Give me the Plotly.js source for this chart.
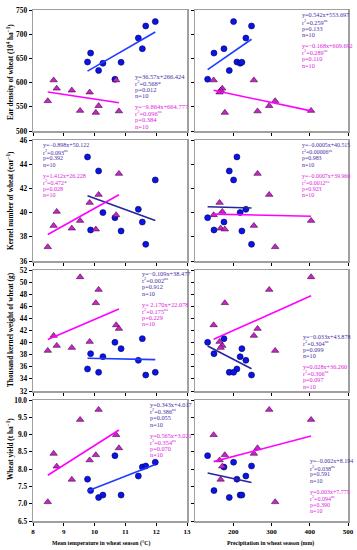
<!DOCTYPE html>
<html><head><meta charset="utf-8">
<script src="https://cdn.plot.ly/plotly-3.0.1.min.js"></script>
<style>html,body{margin:0;padding:0;background:#fff;} #chart{width:357px;height:550px;}</style>
</head><body><div id="chart"></div>
<script>
// ---- data: blue circles (series 1) ----
const tempBlue   = [9.77, 9.87, 10.13, 10.27, 10.66, 10.86, 11.42, 11.55, 11.66, 11.97];
const precBlue   = [209.6, 149.6, 189.6, 218, 133, 222.6, 233, 175.7, 247.8, 200.9];
const earBlue    = [642.6, 661, 625, 640, 607, 642, 692, 670, 717, 726];
const kernelBlue = [44.6, 38.56, 43.44, 40.0, 39.58, 38.48, 40.27, 39.22, 37.38, 42.7];
const tkwBlue    = [35.64, 38.17, 35.09, 37.67, 40.04, 39.0, 37.07, 40.65, 34.64, 35.09];
const yieldBlue  = [7.71, 7.38, 7.18, 7.25, 8.39, 7.25, 7.80, 8.06, 8.09, 8.20];
// ---- data: magenta triangles (series 2) ----
const tempMag    = [8.48, 8.67, 8.77, 9.26, 9.53, 9.84, 10.04, 10.13, 10.70, 10.79];
const precMag    = [309.6, 253.9, 171.3, 167, 403.5, 164.3, 178, 294, 148.7, 263.5];
const earMag     = [562, 605, 588, 584, 542, 580, 538, 552, 605, 541];
const kernelMag  = [37.16, 38.92, 40.08, 38.7, 39.33, 40.82, 38.62, 41.48, 39.8, 43.22];
const tkwMag     = [38.67, 41.15, 39.5, 39.16, 50.84, 40.15, 46.55, 48.75, 42.9, 42.3];
const yieldMag   = [7.05, 8.45, 8.08, 7.70, 9.43, 8.26, 8.41, 9.72, 8.99, 8.61];

// ---- axis ticks / labels ----
const yTitles = ["Ear density of wheat (10<sup>4</sup> ha<sup>\u22121</sup>)",
                 "Kernel number of wheat (ear<sup>\u22121</sup>)",
                 "Thousand kernel weight of wheat (g)",
                 "Wheat yield (t ha<sup>\u22121</sup>)"];
const xTitles = ["Mean temperature in wheat season (\u00B0C)", "Precipitation in wheat season (mm)"];
const yRanges = [[500, 750], [36, 46], [32, 52], [6.5, 10]];
const yDticks = [50, 2, 2, 0.5];
const tempTicks = [8, 9, 10, 11, 12, 13];
const precTicks = [200, 300, 400, 500];

// ---- regression statistics text ----
const statsBlue = [
  ["y=36.57x+266.424", "r<sup>2</sup>=0.568*", "p=0.012", "n=10"],
  ["y=0.542x+553.697", "r<sup>2</sup>=0.259<sup>ns</sup>", "p=0.133", "n=10"],
  ["y=\u22120.898x+50.122", "r<sup>2</sup>=0.093<sup>ns</sup>", "p=0.392", "n=10"],
  ["y=\u22120.0005x+40.515", "r<sup>2</sup>=0.00006<sup>ns</sup>", "p=0.983", "n=10"],
  ["y=\u22120.109x+38.477", "r<sup>2</sup>=0.002<sup>ns</sup>", "p=0.912", "n=10"],
  ["y=\u22120.033x+43.878", "r<sup>2</sup>=0.304<sup>ns</sup>", "p=0.099", "n=10"],
  ["y=0.343x+4.017", "r<sup>2</sup>=0.386<sup>ns</sup>", "p=0.055", "n=10"],
  ["y=\u22120.002x+8.194", "r<sup>2</sup>=0.038<sup>ns</sup>", "p=0.591", "n=10"]
];
const statsMag = [
  ["y=\u22129.864x+664.777", "r<sup>2</sup>=0.096<sup>ns</sup>", "p=0.384", "n=10"],
  ["y=\u22120.168x+609.692", "r<sup>2</sup>=0.289<sup>ns</sup>", "p=0.110", "n=10"],
  ["y=1.412x+26.228", "r<sup>2</sup>=0.472*", "p=0.028", "n=10"],
  ["y=\u22120.0007x+39.960", "r<sup>2</sup>=0.0012<sup>ns</sup>", "p=0.923", "n=10"],
  ["y= 2.170x+22.078", "r<sup>2</sup>=0.175<sup>ns</sup>", "p=0.229", "n=10"],
  ["y=0.028x+36.260", "r<sup>2</sup>=0.306<sup>ns</sup>", "p=0.097", "n=10"],
  ["y=0.565x+3.021", "r<sup>2</sup>=0.354<sup>ns</sup>", "p=0.070", "n=10"],
  ["y=0.003x+7.775", "r<sup>2</sup>=0.094<sup>ns</sup>", "p=0.390", "n=10"]
];

// ---- layout geometry (pixels) ----
const W = 357, H = 550;
const cols = [[33, 187], [195, 348]];
const rows = [[10, 131], [140, 261], [270, 391], [400, 521]];
const statPos = [[133, 76], [300, 15], [40.7, 145], [300, 145], [139.5, 273.5], [301, 336], [148.3, 404.5], [308.3, 461]];
const statSize = [6.5, 6.2, 6.0, 5.9, 6.3, 6.2, 6.3, 6.0];
const blueLineColors = ["#1f3cff", "#1f3cff", "#26269a", "#26269a", "#1f3cff", "#26269a", "#1f3cff", "#26269a"];
const FONT = "Liberation Serif, Times New Roman, serif";

const panels = [];
const yB = [earBlue, kernelBlue, tkwBlue, yieldBlue];
const yM = [earMag, kernelMag, tkwMag, yieldMag];
for (let r = 0; r < 4; r++) {
  panels.push({xb: tempBlue, yb: yB[r], xm: tempMag, ym: yM[r]});
  panels.push({xb: precBlue, yb: yB[r], xm: precMag, ym: yM[r]});
}

function fit(x, y) {
  const n = x.length;
  const mx = x.reduce((a, b) => a + b, 0) / n, my = y.reduce((a, b) => a + b, 0) / n;
  let sxy = 0, sxx = 0;
  for (let i = 0; i < n; i++) { sxy += (x[i] - mx) * (y[i] - my); sxx += (x[i] - mx) ** 2; }
  const b = sxy / sxx, a = my - b * mx;
  const x0 = Math.min(...x), x1 = Math.max(...x);
  return {x: [x0, x1], y: [a + b * x0, a + b * x1]};
}

const px = v => v / W, py = v => 1 - v / H;
const data = [];
const layout = {
  width: W, height: H, margin: {l: 0, r: 0, t: 0, b: 0},
  paper_bgcolor: "#fff", plot_bgcolor: "#fff", showlegend: false,
  font: {family: FONT, color: "#000", size: 8},
  annotations: []
};

panels.forEach((p, k) => {
  const r = Math.floor(k / 2), c = k % 2;
  const xa = "x" + (k + 1), ya = "y" + (k + 1);
  data.push({type: "scatter", mode: "markers", x: p.xb, y: p.yb, xaxis: xa, yaxis: ya,
    marker: {symbol: "circle", size: 6, color: "#0a14e6", line: {color: "#00005a", width: 0.6}}});
  data.push({type: "scatter", mode: "markers", x: p.xm, y: p.ym, xaxis: xa, yaxis: ya,
    marker: {symbol: "triangle-up", size: 6.5, color: "#cc22cc", line: {color: "#3a0a3a", width: 0.6}}});
  const fb = fit(p.xb, p.yb), fm = fit(p.xm, p.ym);
  data.push({type: "scatter", mode: "lines", x: fb.x, y: fb.y, xaxis: xa, yaxis: ya,
    line: {color: blueLineColors[k], width: 1.6}});
  data.push({type: "scatter", mode: "lines", x: fm.x, y: fm.y, xaxis: xa, yaxis: ya,
    line: {color: "#ff00ff", width: 1.6}});

  const axCommon = {showgrid: false, zeroline: false, showline: true, mirror: true,
    linecolor: "#a0a0a0", linewidth: 1.5, ticks: "outside", ticklen: 3, tickwidth: 1, tickcolor: "#000",
    fixedrange: true};
  layout["xaxis" + (k + 1)] = Object.assign({}, axCommon, {
    domain: [px(cols[c][0]), px(cols[c][1])], anchor: ya,
    range: c === 0 ? [8, 13] : [100, 500],
    tickmode: "array", tickvals: c === 0 ? tempTicks : precTicks,
    showticklabels: r === 3,
    tickfont: {family: FONT, size: 7, color: "#000", weight: "bold"}
  });
  layout["yaxis" + (k + 1)] = Object.assign({}, axCommon, {
    domain: [py(rows[r][1]), py(rows[r][0])], anchor: xa,
    range: yRanges[r], dtick: yDticks[r], tick0: yRanges[r][0],
    tickformat: r === 3 ? ".1f" : "", showticklabels: c === 0,
    tickfont: {family: FONT, size: 7.3, color: "#000", weight: "bold"}
  });

  // stats text
  const [sx, sy] = statPos[k];
  statsBlue[k].forEach((t, i) => layout.annotations.push({xref: "paper", yref: "paper",
    x: px(sx), y: py(sy + i * 6.6), xanchor: "left", yanchor: "middle", showarrow: false,
    text: t, font: {family: FONT, size: statSize[k], color: "#4a2ea6"}}));
  statsMag[k].forEach((t, i) => layout.annotations.push({xref: "paper", yref: "paper",
    x: px(sx), y: py(sy + 30.5 + i * 6.6), xanchor: "left", yanchor: "middle", showarrow: false,
    text: t, font: {family: FONT, size: statSize[k], color: "#dd22dd"}}));
});

// y-axis titles
const yTitleCenters = [72, 201, 330, 449];
yTitles.forEach((t, r) => layout.annotations.push({xref: "paper", yref: "paper",
  x: px(10), y: py(yTitleCenters[r]), xanchor: "center", yanchor: "middle", textangle: -90,
  showarrow: false, text: "<b>" + t + "</b>", font: {family: FONT, size: 7.3, color: "#000"}}));
// x-axis titles
const xTitleCenters = [101, 270];
xTitles.forEach((t, c) => layout.annotations.push({xref: "paper", yref: "paper",
  x: px(xTitleCenters[c]), y: py(543), xanchor: "center", yanchor: "middle",
  showarrow: false, text: "<b>" + t + "</b>", font: {family: FONT, size: 5.8, color: "#000"}}));

Plotly.newPlot("chart", data, layout, {staticPlot: true, displayModeBar: false});
</script>
</body></html>
